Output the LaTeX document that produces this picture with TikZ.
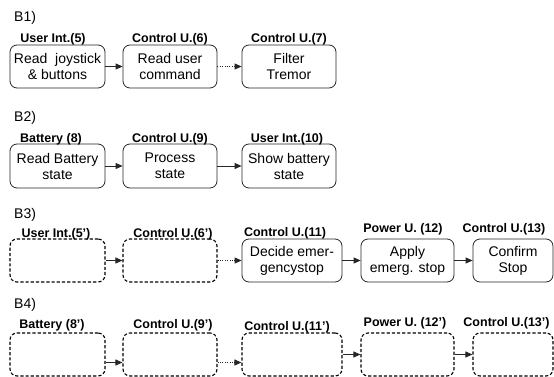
\documentclass[tikz,border=0pt]{standalone}
\usepackage{fontspec}
\setmainfont{Liberation Sans}
\usetikzlibrary{arrows.meta}
\begin{document}
\begin{tikzpicture}[x=1pt,y=-1pt,
  boxbase/.style={rounded corners=7pt, line width=0.8pt, draw=black!85, inner sep=0pt,
    align=center, font=\fontsize{14}{16}\selectfont},
  solidbox/.style={boxbase},
  dashbox/.style={boxbase, draw=black, line width=1.1pt, dash pattern=on 3.2pt off 2pt},
  lab/.style={anchor=base, inner sep=0pt, font=\fontsize{12.5}{14}\selectfont\bfseries},
  ttl/.style={anchor=west, inner sep=0pt, font=\fontsize{14}{16}\selectfont},
  arr/.style={line width=0.8pt, draw=black!85, -{Triangle[length=7pt,width=6pt]}},
  darr/.style={arr, dash pattern=on 0.8pt off 1.6pt}
]
\useasboundingbox (0,0) rectangle (554,377);

% ---------- B1 ----------
\node[ttl] (t1) at (14,18) {B1)};
\node[solidbox, minimum width=95pt, minimum height=43pt] (a1) at (57.5,66.5) {Read~~joystick\\\& buttons};
\node[solidbox, minimum width=94pt, minimum height=43pt] (a2) at (170,66.5) {Read user\\command};
\node[solidbox, minimum width=94pt, minimum height=43pt] (a3) at (289,66.5) {Filter\\Tremor};
\node[lab] (la1) at (53,42.5) {User Int.(5)};
\node[lab] (la2) at (170,42.5) {Control U.(6)};
\node[lab] (la3) at (289,42.5) {Control U.(7)};
\draw[arr] (a1) -- (a2);
\draw[darr] (a2) -- (a3);

% ---------- B2 ----------
\node[ttl] (t2) at (14,118) {B2)};
\node[solidbox, minimum width=95pt, minimum height=44pt] (b1) at (57.5,166) {Read Battery\\state};
\node[solidbox, minimum width=94pt, minimum height=44pt] (b2) at (170,166) {Process\\state};
\node[solidbox, minimum width=94pt, minimum height=44pt] (b3) at (289,166) {Show battery\\state};
\node[lab] (lb1) at (51,142.5) {Battery (8)};
\node[lab] (lb2) at (170,142.5) {Control U.(9)};
\node[lab] (lb3) at (287,142.5) {User Int.(10)};
\draw[arr] (b1) -- (b2);
\draw[arr] (b2) -- (b3);

% ---------- B3 ----------
\node[ttl] (t3) at (14,215) {B3)};
\node[dashbox, minimum width=95pt, minimum height=43pt] (c1) at (57.5,260.5) {};
\node[dashbox, minimum width=94pt, minimum height=43pt] (c2) at (170,260.5) {};
\node[solidbox, minimum width=100pt, minimum height=43pt] (c3) at (292,260.5) {Decide emer-\\gencystop};
\node[solidbox, minimum width=93pt, minimum height=43pt] (c4) at (407.5,260.5) {Apply\\emerg. stop};
\node[solidbox, minimum width=80pt, minimum height=43pt] (c5) at (513,260.5) {Confirm\\Stop};
\node[lab] (lc1) at (56,237.5) {User Int.(5')};
\node[lab] (lc2) at (173,237.5) {Control U.(6')};
\node[lab] (lc3) at (285,236.5) {Control U.(11)};
\node[lab] (lc4) at (403,232) {Power U. (12)};
\node[lab] (lc5) at (504,232) {Control U.(13)};
\draw[arr] (c1) -- (c2);
\draw[darr] (c2) -- (c3);
\draw[arr] (c3) -- (c4);
\draw[arr] (c4) -- (c5);

% ---------- B4 ----------
\node[ttl] (t4) at (14,305) {B4)};
\node[dashbox, minimum width=95pt, minimum height=43pt] (d1) at (57.5,354.5) {};
\node[dashbox, minimum width=94pt, minimum height=43pt] (d2) at (170,354.5) {};
\node[dashbox, minimum width=100pt, minimum height=43pt] (d3) at (292,354.5) {};
\node[dashbox, minimum width=93pt, minimum height=43pt] (d4) at (407.5,354.5) {};
\node[dashbox, minimum width=80pt, minimum height=43pt] (d5) at (513,354.5) {};
\node[lab] (ld1) at (52,328) {Battery (8')};
\node[lab] (ld2) at (173,328) {Control U.(9')};
\node[lab] (ld3) at (287,330) {Control U.(11')};
\node[lab] (ld4) at (405,326.5) {Power U. (12')};
\node[lab] (ld5) at (506.5,326.5) {Control U.(13')};
\draw[arr] ([yshift=-8pt]d1.east) -- ([yshift=-8pt]d2.west);
\draw[darr] ([yshift=-8pt]d2.east) -- ([yshift=-8pt]d3.west);
\draw[arr] (d3) -- (d4);
\draw[arr] (d4) -- (d5);
\end{tikzpicture}
\end{document}
